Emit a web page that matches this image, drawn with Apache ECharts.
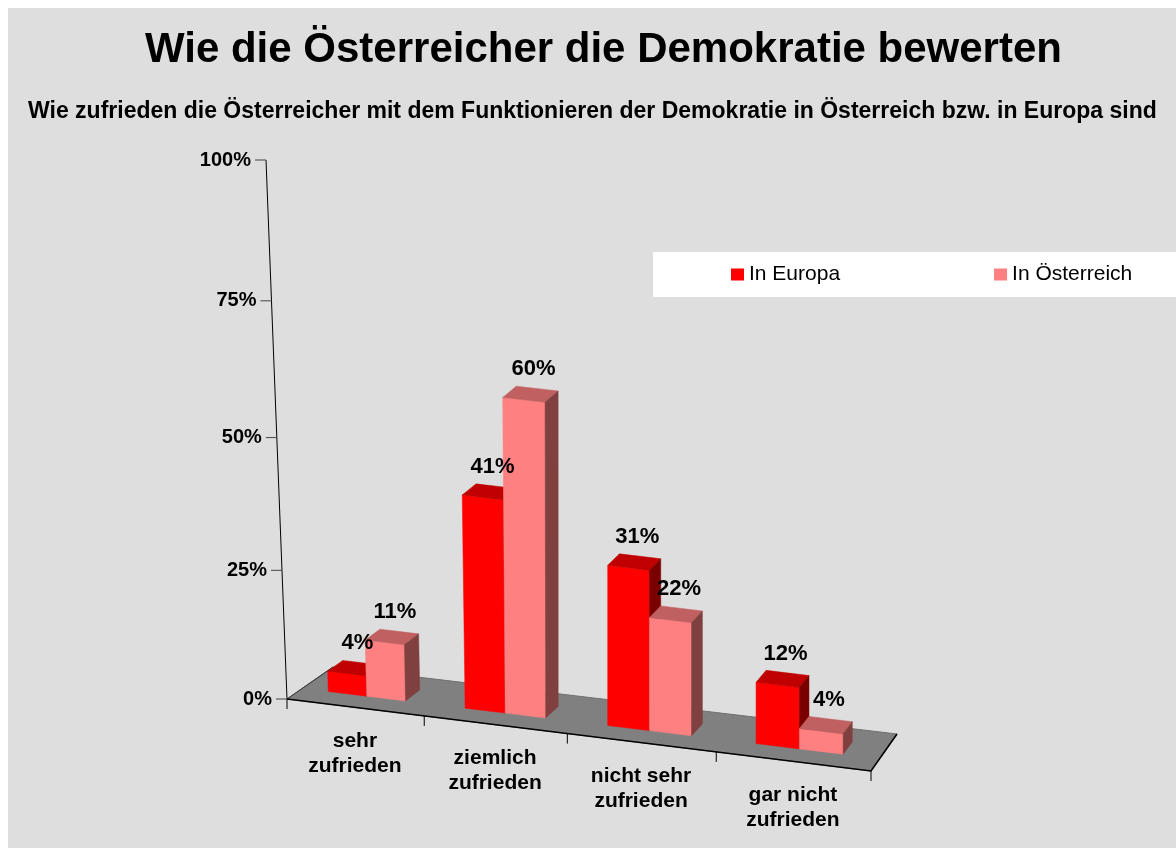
<!DOCTYPE html>
<html>
<head>
<meta charset="utf-8">
<script src="https://cdn.jsdelivr.net/npm/echarts@6/dist/echarts.min.js"></script>
<style>
html,body{margin:0;padding:0;background:#ffffff;}
#c{width:1176px;height:848px;}
</style>
</head>
<body>
<div id="c"></div>
<script>
// ---------- data ----------
const titleText = 'Wie die Österreicher die Demokratie bewerten';
const subtitleText = 'Wie zufrieden die Österreicher mit dem Funktionieren der Demokratie in Österreich bzw. in Europa sind';
const categories = ['sehr\nzufrieden', 'ziemlich\nzufrieden', 'nicht sehr\nzufrieden', 'gar nicht\nzufrieden'];
const seriesNames = ['In Europa', 'In Österreich'];
const europa = [4, 41, 31, 12];
const oesterreich = [11, 60, 22, 4];
const yTicks = [0, 25, 50, 75, 100];
const yTickLabels = ['0%', '25%', '50%', '75%', '100%'];

// ---------- style ----------
const FONT = "'Liberation Sans', Arial, Helvetica, sans-serif";
const FACE = [
  {front: '#FF0000', top: '#C00000', side: '#7A0000'},
  {front: '#FF8080', top: '#C06060', side: '#804040'}
];
// pseudo-3D projection constants
const FRONT_DROP = 72;          // floor front edge drop from left to right
const DEPTH_L = [46, -32];      // floor depth vector at left end
const DEPTH_R = [26, -37];      // floor depth vector at right end
const X_CURVE = 0.08, Y_CURVE = 0.06;
const SLANT = 21, SLANT_CENTER = 560, SLANT_SPAN = 273;
const GROUP = 0.57, SHIFT = -0.02;

function projector(api) {
  const c0 = api.coord([0, 0]);
  const c1 = api.coord([1, 100]);
  const bw = c1[0] - c0[0];
  const gl = c0[0] - bw / 2;
  const gw = bw * categories.length;
  const y0 = c0[1], yTop = c1[1];
  return function (u, d, v) {
    const xl = c0[0] + u * bw;
    const t = (xl - gl) / gw;
    const tw = (1 - X_CURVE) * t + X_CURVE * t * t;
    let X = gl + gw * tw;
    let Y = y0 + FRONT_DROP * tw;
    const dx = DEPTH_L[0] + (DEPTH_R[0] - DEPTH_L[0]) * tw;
    const dy = DEPTH_L[1] + (DEPTH_R[1] - DEPTH_L[1]) * tw;
    X += d * dx; Y += d * dy;
    const ylin = api.coord([0, v])[1];
    const s = (y0 - ylin) / (y0 - yTop);
    const sw = (1 - Y_CURVE) * s + Y_CURVE * s * s;
    const H = (y0 - yTop) * sw;
    X -= SLANT * Math.max(0, (SLANT_CENTER - X) / SLANT_SPAN) * sw;
    Y -= H;
    return [X, Y];
  };
}

function renderFrame(params, api) {
  const P = projector(api);
  const n = categories.length;
  const L = -0.5, R = n - 0.5;
  const ch = [];
  ch.push({type: 'polygon', shape: {points: [P(L,0,0), P(R,0,0), P(R,1,0), P(L,1,0)]},
    style: {fill: '#808080', stroke: '#707070', lineWidth: 1}});
  ch.push({type: 'polyline', shape: {points: [P(L,1,0), P(L,0,0)]},
    style: {stroke: '#333', lineWidth: 1, fill: null}});
  ch.push({type: 'polyline', shape: {points: [P(L,0,0), P(R,0,0), P(R,1,0)]},
    style: {stroke: '#000', lineWidth: 1.6, fill: null}});
  // y axis
  const ap = yTicks.slice().reverse().map(v => P(L, 0, v));
  const b = P(L, 0, 0);
  ap.push([b[0], b[1] + 10]);
  ch.push({type: 'polyline', shape: {points: ap}, style: {stroke: '#000', lineWidth: 1, fill: null}});
  yTicks.forEach((v, k) => {
    const p = P(L, 0, v);
    ch.push({type: 'line', shape: {x1: p[0] - 11, y1: p[1], x2: p[0], y2: p[1]}, style: {stroke: '#444', lineWidth: 1}});
    ch.push({type: 'text', x: p[0] - 15, y: p[1], style: {text: yTickLabels[k], fill: '#000',
      font: 'bold 20px ' + FONT, align: 'right', verticalAlign: 'middle'}});
  });
  // x ticks
  for (let k = 1; k <= n; k++) {
    const p = P(L + k, 0, 0);
    ch.push({type: 'line', shape: {x1: p[0], y1: p[1], x2: p[0], y2: p[1] + 10}, style: {stroke: '#000', lineWidth: 1}});
  }
  // x labels
  categories.forEach((c, i) => {
    const p = P(i, 0, 0);
    ch.push({type: 'text', x: p[0], y: p[1] + 21, style: {text: c, fill: '#000',
      font: 'bold 21px ' + FONT, align: 'center', verticalAlign: 'top', lineHeight: 25}});
  });
  return {type: 'group', children: ch};
}

function barRenderer(j) {
  return function (params, api) {
    const P = projector(api);
    const i = api.value(0), v = api.value(1);
    const u0 = i - GROUP / 2 + j * GROUP / 2 + SHIFT, u1 = u0 + GROUP / 2;
    const d0 = 1 / 3, d1 = 2 / 3;
    const c = FACE[j];
    return {type: 'group', children: [
      {type: 'polygon', shape: {points: [P(u0,d0,0), P(u1,d0,0), P(u1,d0,v), P(u0,d0,v)]},
        style: {fill: c.front, stroke: c.front, lineWidth: 0.5}},
      {type: 'polygon', shape: {points: [P(u0,d0,v), P(u1,d0,v), P(u1,d1,v), P(u0,d1,v)]},
        style: {fill: c.top, stroke: c.top, lineWidth: 0.5}},
      {type: 'polygon', shape: {points: [P(u1,d0,0), P(u1,d1,0), P(u1,d1,v), P(u1,d0,v)]},
        style: {fill: c.side, stroke: c.side, lineWidth: 0.5}}
    ]};
  };
}

function renderLabel(params, api) {
  const P = projector(api);
  const i = api.value(0), v = api.value(1), j = api.value(2);
  const uc = i - GROUP / 2 + (j + 0.5) * GROUP / 2 + SHIFT;
  const p = P(uc, 0.5, v);
  return {type: 'text', x: p[0] + 3, y: p[1] - 25, style: {text: v + '%', fill: '#000',
    font: 'bold 22px ' + FONT, align: 'center', verticalAlign: 'middle'}};
}

const labelData = [];
[europa, oesterreich].forEach((arr, j) => arr.forEach((v, i) => labelData.push([i, v, j])));

const chart = echarts.init(document.getElementById('c'), null, {renderer: 'canvas'});
chart.setOption({
  animation: false,
  color: [FACE[0].front, FACE[1].front],
  graphic: [{type: 'rect', left: 8, top: 8, shape: {width: 1168, height: 840}, style: {fill: '#DEDEDE'}, z: -10, silent: true}],
  title: [
    {text: titleText, left: 145, top: 29, padding: 0,
      textStyle: {fontSize: 42, fontWeight: 'bold', color: '#000', fontFamily: FONT}},
    {text: subtitleText, left: 28, top: 100, padding: 0,
      textStyle: {fontSize: 23, fontWeight: 'bold', color: '#000', fontFamily: FONT}}
  ],
  legend: {
    data: seriesNames, left: 653, top: 252, orient: 'horizontal', width: 440,
    padding: [12, 78, 12, 78], backgroundColor: '#ffffff',
    itemWidth: 13, itemHeight: 12, itemGap: 154, icon: 'rect',
    textStyle: {fontSize: 21, color: '#000', fontFamily: FONT}
  },
  grid: {left: 287, right: 305, top: 160, bottom: 149},
  xAxis: {type: 'category', data: categories, show: false},
  yAxis: {type: 'value', min: 0, max: 100, interval: 25, show: false},
  series: [
    {type: 'custom', name: 'frame', z: 1, clip: false, silent: true, renderItem: renderFrame, data: [[0, 0]]},
    {type: 'custom', name: seriesNames[0], z: 2, clip: false, itemStyle: {color: FACE[0].front},
      renderItem: barRenderer(0), data: europa.map((v, i) => [i, v])},
    {type: 'custom', name: seriesNames[1], z: 2, clip: false, itemStyle: {color: FACE[1].front},
      renderItem: barRenderer(1), data: oesterreich.map((v, i) => [i, v])},
    {type: 'custom', name: 'labels', z: 3, clip: false, silent: true, renderItem: renderLabel,
      encode: {x: 0, y: 1}, data: labelData}
  ]
});
</script>
</body>
</html>
